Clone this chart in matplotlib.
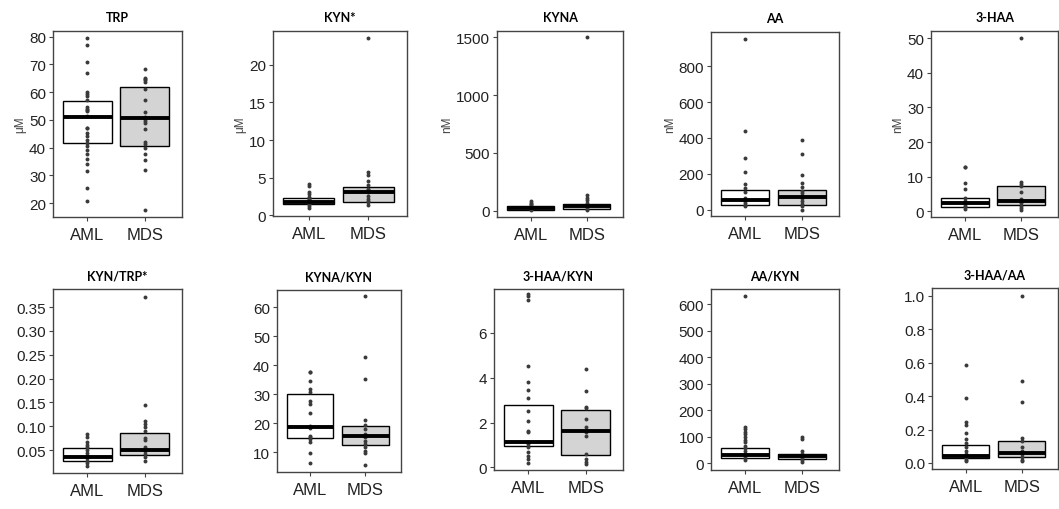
import numpy as np
import matplotlib
matplotlib.use("Agg")
import matplotlib.pyplot as plt

plt.rcParams['font.family'] = ['Liberation Sans', 'DejaVu Sans']

titles = ["TRP", "KYN*", "KYNA", "AA", "3-HAA",
          "KYN/TRP*", "KYNA/KYN", "3-HAA/KYN", "AA/KYN", "3-HAA/AA"]
units = ["\u03bcM", "\u03bcM", "nM", "nM", "nM", "", "", "", "", ""]
groups = ["AML", "MDS"]

# points
aml_pts = [
    [79.4, 76.9, 70.7, 67.0, 60.2, 59.4, 58.6, 57.2, 54.5, 53.9, 53.7, 53.2, 51.3, 47.2, 47.0,
     45.3, 44.1, 42.6, 41.6, 40.7, 39.0, 37.6, 35.9, 34.0, 31.7, 25.5, 20.6],
    [4.1, 3.9, 3.1, 2.8, 2.4, 2.3, 2.2, 2.0, 1.8, 1.7, 1.5, 1.2, 1.0],
    [83, 72, 60, 49, 34, 20, 11],
    [949, 437, 286, 208, 143, 119, 100, 63, 50, 37, 26, 22],
    [12.9, 12.7, 8.1, 6.3, 3.85, 3.0, 2.6, 2.1, 1.6, 1.2, 0.7],
    [0.0836, 0.0766, 0.068, 0.0605, 0.0556, 0.0507, 0.045, 0.038, 0.0332, 0.0276, 0.022, 0.017],
    [37.8, 37.6, 34.7, 32.0, 30.9, 27.8, 26.7, 23.4, 19.2, 18.4, 15.7, 15.2, 14.6, 13.7, 9.7, 6.2],
    [7.74, 7.64, 7.49, 4.54, 3.8, 3.45, 3.1, 2.53, 2.08, 1.61, 1.56, 1.15, 1.04, 0.89, 0.67,
     0.49, 0.37, 0.18],
    [631, 137, 128, 119, 109, 99, 89, 78, 65, 57, 47, 36, 28, 19, 11],
    [0.586, 0.386, 0.247, 0.229, 0.177, 0.141, 0.118, 0.098, 0.074, 0.054, 0.040, 0.030,
     0.020, 0.010],
]
mds_pts = [
    [68.3, 65.2, 64.7, 64.2, 63.8, 61.1, 57.2, 52.9, 51.1, 50.3, 49.5, 48.9, 46.7, 41.9, 41.3,
     39.7, 37.6, 35.4, 31.8, 17.6],
    [23.6, 5.7, 5.3, 4.6, 4.0, 3.5, 3.3, 3.1, 2.6, 2.1, 1.9, 1.7, 1.4],
    [1500, 135, 115, 92, 72, 55, 43, 32, 20, 11],
    [391, 309, 193, 149, 125, 106, 93, 78, 65, 50, 32, 19, 0],
    [50.2, 8.6, 7.8, 7.2, 5.5, 3.6, 3.1, 2.4, 1.6, 0.9, 0.4],
    [0.372, 0.1446, 0.1117, 0.1047, 0.0977, 0.0907, 0.0745, 0.071, 0.0556, 0.0486, 0.0416,
     0.0346, 0.0276],
    [63.8, 42.8, 35.2, 21.3, 19.4, 18.0, 16.3, 15.2, 13.8, 12.9, 11.7, 10.6, 9.8, 5.6],
    [4.39, 3.42, 2.68, 2.64, 2.16, 1.79, 1.56, 1.41, 0.6, 0.37, 0.22, 0.15],
    [99, 91, 47, 36, 28, 19, 13, 6],
    [1.0, 0.492, 0.363, 0.147, 0.133, 0.098, 0.074, 0.054, 0.034, 0.020, 0.010],
]

# boxes: (lower, median, upper)
aml_box = [(41.6, 51.1, 56.8), (1.45, 1.7, 2.35), (12, 29, 43), (28, 52, 112), (1.15, 2.3, 3.85),
           (0.0276, 0.0353, 0.0535), (14.8, 18.7, 30.1), (0.94, 1.15, 2.8), (19, 31, 57),
           (0.03, 0.044, 0.11)]
mds_box = [(40.7, 50.5, 62.0), (1.8, 3.1, 3.75), (18, 42, 60), (28, 71, 110), (1.8, 3.1, 7.4),
           (0.0388, 0.0507, 0.085), (12.5, 15.7, 19.1), (0.55, 1.64, 2.58), (16, 25, 36),
           (0.034, 0.062, 0.13)]

yticks = [np.arange(20, 81, 10), [0, 5, 10, 15, 20], [0, 500, 1000, 1500],
          [0, 200, 400, 600, 800], np.arange(0, 51, 10),
          [0.05, 0.10, 0.15, 0.20, 0.25, 0.30, 0.35], np.arange(10, 61, 10), [0, 2, 4, 6],
          np.arange(0, 601, 100), [0.0, 0.2, 0.4, 0.6, 0.8, 1.0]]
ylims = [(15, 82), (-0.1, 24.5), (-52, 1552), (-35, 990), (-1.65, 52.1),
         (0.002, 0.388), (3.2, 66), (-0.12, 7.96), (-26, 657), (-0.036, 1.046)]
yfmt = [None, None, None, None, None, "%.2f", None, None, None, "%.1f"]

# panel frames in pixels (left, right, top, bottom)
W, H = 1059, 510
frames = [(53, 182, 32, 218), (273, 407, 32, 217), (497, 623, 32, 218), (711, 839, 33, 217),
          (931, 1058, 32, 218),
          (53, 182, 290, 474), (277, 401, 291, 473), (494, 623, 290, 471), (711, 839, 290, 471),
          (932, 1058, 289, 470)]

fig = plt.figure(figsize=(W / 100, H / 100), dpi=100)
fills = ["white", "#d4d4d4"]

for i in range(10):
    l, r, t, b = frames[i]
    ax = fig.add_axes([l / W, 1 - b / H, (r - l) / W, (b - t) / H])
    boxes = [aml_box[i], mds_box[i]]
    pts = [aml_pts[i], mds_pts[i]]
    for j in range(2):
        lo, med, hi = boxes[j]
        ax.bar(j + 1, hi - lo, bottom=lo, width=0.85, color=fills[j], edgecolor="black",
               linewidth=1.0, zorder=2)
        ax.scatter(np.full(len(pts[j]), j + 1), pts[j], s=8, color="#3a3a3a", zorder=3,
                   linewidths=0)
        ax.hlines(med, j + 1 - 0.425, j + 1 + 0.425, color="black", linewidth=2.8, zorder=4)
    ax.set_xlim(0.4, 2.65)
    ax.set_ylim(*ylims[i])
    ax.set_xticks([1, 2])
    ax.set_xticklabels(groups)
    ax.set_yticks(yticks[i])
    if yfmt[i]:
        ax.set_yticklabels([yfmt[i] % v for v in yticks[i]])
    ax.tick_params(axis="x", labelsize=12, length=3, color="#444444", labelcolor="#222222",
                   pad=4)
    ax.tick_params(axis="y", labelsize=11, length=3, color="#444444", labelcolor="#222222",
                   pad=2)
    for s in ax.spines.values():
        s.set_color("#444444")
        s.set_linewidth(1.0)
    ax.set_title(titles[i], fontsize=9, fontweight="bold", family=["Lato", "DejaVu Sans"],
                 pad=7)
    if units[i]:
        ax.set_ylabel(units[i], fontsize=8.5, color="#444444", labelpad=2)

fig.savefig("out.png", dpi=100)
